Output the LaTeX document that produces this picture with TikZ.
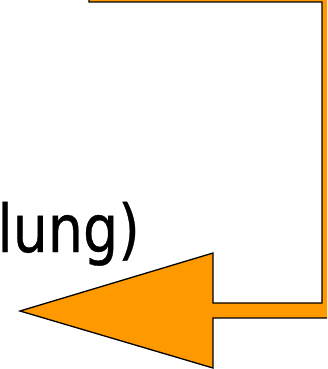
\documentclass[tikz,border=0pt]{standalone}
\usepackage{fontspec}
\newfontfamily\lblfont[FakeBold=0.6]{DejaVu Sans}
\definecolor{arroworange}{HTML}{FF9900}
\tikzset{
  bigarrow/.style={fill=arroworange, draw=black, line width=1.3pt, line join=miter},
  lbl/.style={font=\lblfont\fontsize{66}{66}\selectfont, inner sep=0pt, text=black}
}
\begin{document}
\begin{tikzpicture}[x=1pt,y=-1pt]
\useasboundingbox (0,0) rectangle (327,369);
\clip (0,0) rectangle (327,369);
\fill[white] (0,0) rectangle (327,369);
\draw[bigarrow] (20,311) -- (213,253) -- (213,303) -- (322,303) -- (322,2) -- (89,2) -- (89,-14)
  -- (338,-14) -- (338,318) -- (213,318) -- (213,368) -- cycle;
\node[lbl, anchor=base east] (t) at (140,252) {\scalebox{0.84}[1]{lung)}};
\end{tikzpicture}
\end{document}
